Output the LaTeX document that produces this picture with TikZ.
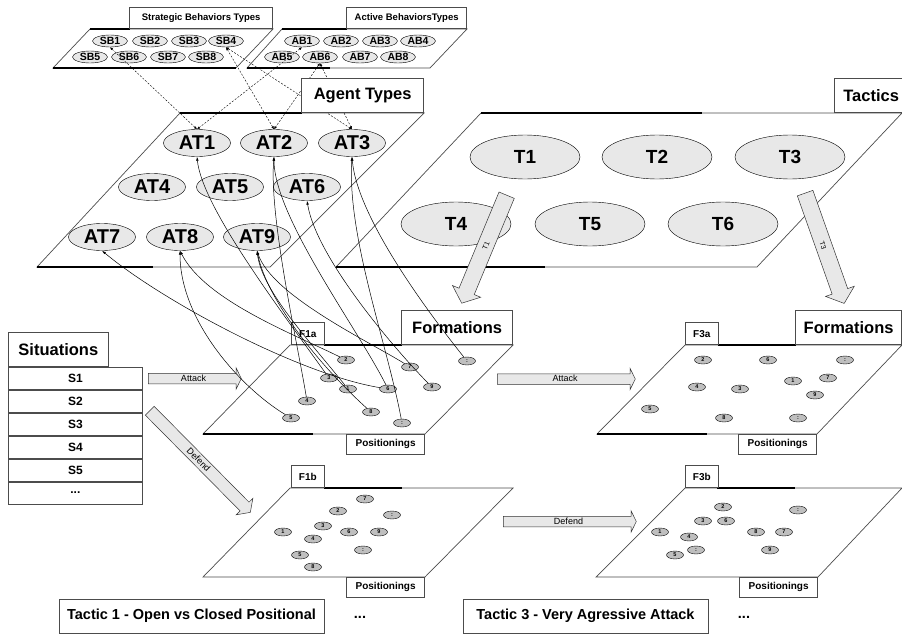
\documentclass[tikz,border=0pt]{standalone}
\usepackage{fontspec}
\setmainfont{Liberation Sans}
\usetikzlibrary{arrows.meta, positioning, shapes.geometric, shapes.arrows}

\begin{document}
\begin{tikzpicture}[
    x=1pt, y=-1pt,
    panel/.style={draw=black!70, line width=0.7pt, fill=white},
    rim/.style={line width=1.5pt},
    tab/.style={draw=black!70, fill=white, line width=0.7pt, inner sep=0pt},
    bigtab/.style={tab, minimum height=34pt, font=\fontsize{16.5}{18}\selectfont\bfseries},
    smalltab/.style={tab, minimum height=21pt, font=\fontsize{9.5}{11}\selectfont\bfseries},
    ftab/.style={tab, minimum width=33pt, minimum height=22pt, font=\fontsize{10}{11}\selectfont\bfseries},
    postab/.style={tab, minimum width=78pt, minimum height=20pt, font=\fontsize{10}{11}\selectfont\bfseries},
    behav/.style={ellipse, draw, fill=gray!18, inner sep=0pt, minimum width=35pt, minimum height=12pt, font=\fontsize{10.5}{11}\selectfont\bfseries},
    agent/.style={ellipse, draw, fill=gray!18, inner sep=0pt, minimum width=67pt, minimum height=27pt, font=\fontsize{20}{20}\selectfont\bfseries},
    tactic/.style={ellipse, draw, fill=gray!18, inner sep=0pt, minimum width=110pt, minimum height=44pt, font=\fontsize{19}{19}\selectfont\bfseries},
    spot/.style={ellipse, draw, fill=gray!50, inner sep=0pt, minimum width=17pt, minimum height=8pt, font=\fontsize{5.5}{5.5}\selectfont\bfseries},
    srow/.style={draw=black!70, fill=white, line width=0.7pt, minimum width=134pt, minimum height=22.2pt, inner sep=0pt, font=\fontsize{12}{12}\selectfont\bfseries},
    titlebox/.style={draw=black!70, line width=0.7pt, inner sep=0pt, minimum height=34pt, font=\fontsize{14.5}{15}\selectfont\bfseries},
    fatarrow/.style={single arrow, draw=black!80, fill=gray!18, line width=0.5pt, inner xsep=2pt, text height=5pt, text depth=0pt, inner ysep=2.5pt, single arrow head extend=5.5pt, single arrow tip angle=128, font=\fontsize{9}{9}\selectfont},
    tacarrow/.style={fatarrow, text height=6pt, inner ysep=5pt, single arrow head extend=7pt, single arrow tip angle=100, font=\fontsize{7}{7}\selectfont},
    bond/.style={<->, >={Latex[length=3pt,width=2.5pt]}, dash pattern=on 2pt off 1.5pt, line width=0.4pt},
    link/.style={->, >={Latex[length=4pt,width=2.5pt]}, line width=0.5pt}
]
\useasboundingbox (0,0) rectangle (902,634);

% behaviour panels
\draw[panel] (90,29) -- (273,29) -- (236,68) -- (53,68) -- cycle;
\draw[rim] (90,29) -- (130,29) (53,68) -- (236,68);
\node[smalltab, minimum width=143pt, anchor=south east] (sbtab) at (273,29) {Strategic Behaviors Types};
\foreach \n/\x/\y in {1/110/41, 2/150/41, 3/189/41, 4/226/41, 5/90/57, 6/129/57, 7/168/57, 8/206/57}
    \node[behav] (sb\n) at (\x,\y) {SB\n};

\draw[panel] (282,29) -- (467,29) -- (430,68) -- (247,68) -- cycle;
\draw[rim] (282,29) -- (347,29) (247,68) -- (330,68);
\node[smalltab, minimum width=120pt, anchor=south east] (abtab) at (467,29) {Active BehaviorsTypes};
\foreach \n/\x/\y in {1/302/41, 2/341/41, 3/380/41, 4/418/41, 5/282/57, 6/320/57, 7/360/57, 8/398/57}
    \node[behav] (ab\n) at (\x,\y) {AB\n};

% agent types
\draw[panel] (180,113) -- (424,113) -- (270,267) -- (37,267) -- cycle;
\draw[rim] (180,113) -- (302,113) (37,267) -- (153,267);
\foreach \n/\x/\y in {1/197/143, 2/274/143, 3/352/143, 4/152/187, 5/230/187, 6/307/187, 7/102/237, 8/180/237, 9/257/237}
    \node[agent] (at\n) at (\x,\y) {AT\n};

% tactics
\draw[panel] (481,113) -- (902,113) -- (757,267) -- (336,267) -- cycle;
\draw[rim] (481,113) -- (702,113) (336,267) -- (545,267);
\node[bigtab, inner xsep=9pt, anchor=south west] (tactab) at (834,113) {Tactics};
\foreach \n/\x/\y in {1/525/157, 2/657/157, 3/790/157, 4/456/224, 5/590/224, 6/723/224}
    \node[tactic] (t\n) at (\x,\y) {T\n};

\draw[bond] (sb1.south) -- (at1.north);
\draw[bond] (ab1.south) -- (at1.north);
\draw[bond] (sb4.south) -- (at2.north);
\draw[bond] (ab6.south) -- (at2.north);
\draw[bond] (sb4.south) -- (at3.north);
\draw[bond] (ab6.south) -- (at3.north);
\node[bigtab, minimum width=122pt, anchor=south east] (agtab) at (424,113) {Agent Types};

% formations
\draw[panel] (290,345) -- (513,345) -- (425,434) -- (203,434) -- cycle;
\draw[rim] (324,345) -- (402,345) (203,434) -- (313,434);
\node[ftab, anchor=south west] (f1a) at (291,345) {F1a};
\node[bigtab, minimum width=111pt, anchor=south east] (form1) at (513,345) {Formations};
\node[postab, anchor=north east] (pos1a) at (425,434) {Positionings};
\foreach \n/\lbl/\x/\y in {1/1/348/389, 2/2/346/360, 3/3/329/378, 4/4/307/401, 5/5/291/418, 6/6/388/389, 7/7/410/367, 8/8/371/412, 9/9/432/387, a/:/467/361, b/:/402/423}
    \node[spot] (fa\n) at (\x,\y) {\lbl};

\draw[panel] (685,345) -- (902,345) -- (817,434) -- (597,434) -- cycle;
\draw[rim] (718,345) -- (796,345) (597,434) -- (707,434);
\node[ftab, anchor=south west] (f3a) at (685,345) {F3a};
\node[bigtab, minimum width=106pt, anchor=south east] (form3) at (902,345) {Formations};
\node[postab, anchor=north east] (pos3a) at (817,434) {Positionings};
\foreach \n/\lbl/\x/\y in {1/1/793/381, 2/2/703/360, 3/3/740/389, 4/4/697/387, 5/5/650/409, 6/6/768/360, 7/7/828/378, 8/8/724/418, 9/9/815/395, a/:/845/360, b/:/798/418}
    \node[spot] (ta\n) at (\x,\y) {\lbl};

\draw[panel] (290,488) -- (513,488) -- (425,577) -- (203,577) -- cycle;
\draw[rim] (324,488) -- (402,488);
\node[ftab, anchor=south west] (f1b) at (291,488) {F1b};
\node[postab, anchor=north east] (pos1b) at (425,577) {Positionings};
\foreach \n/\lbl/\x/\y in {1/1/283/532, 2/2/338/511, 3/3/323/526, 4/4/313/539, 5/5/300/555, 6/6/349/532, 7/7/365/499, 8/8/313/567, 9/9/379/532, a/:/392/515, b/:/363/550}
    \node[spot] (fb\n) at (\x,\y) {\lbl};

\draw[panel] (685,488) -- (902,488) -- (818,577) -- (596,577) -- cycle;
\draw[rim] (717,488) -- (795,488);
\node[ftab, anchor=south west] (f3b) at (685,488) {F3b};
\node[postab, anchor=north east] (pos3b) at (818,577) {Positionings};
\foreach \n/\lbl/\x/\y in {1/1/660/532, 2/2/723/507, 3/3/703/521, 4/4/689/537, 5/5/675/555, 6/6/726/521, 7/7/784/532, 8/8/756/532, 9/9/770/550, a/:/798/510, b/:/696/550}
    \node[spot] (tb\n) at (\x,\y) {\lbl};

% situations
\node[bigtab, minimum width=100pt, anchor=south west] (sittab) at (8,367) {Situations};
\node[srow, anchor=north west] (s1) at (8,367) {S1};
\node[srow, below=0pt of s1] (s2) {S2};
\node[srow, below=0pt of s2] (s3) {S3};
\node[srow, below=0pt of s3] (s4) {S4};
\node[srow, below=0pt of s4] (s5) {S5};
\node[srow, below=0pt of s5] (sn) {...};

% flow arrows
\node[fatarrow, minimum height=93pt] (atk1) at (193.5,378.5) {Attack};
\node[fatarrow, minimum height=138pt] (atk3) at (565,379) {Attack};
\node[fatarrow, minimum height=133pt] (dfd3) at (568.5,521.5) {Defend};
\node[fatarrow, minimum height=143pt, rotate=-45.3, text height=6pt, inner ysep=3pt, single arrow tip angle=110] (dfd1) at (198.5,460) {Defend};
\node[tacarrow, minimum height=117pt, rotate=67.4, shape border rotate=180] (tac1) at (485.5,246) {T1};
\node[tacarrow, minimum height=117pt, rotate=-70.5] (tac3) at (823.5,245) {T3};

% positions back to agent types
\draw[link] (fa6) .. controls +(-90,-15) and +(60,50) .. (at7.south);
\draw[link] (fa5) .. controls +(-50,-30) and +(0,70) .. (at8.south);
\draw[link] (fa2) .. controls +(-50,-25) and +(25,50) .. (at8.south);
\draw[link] (fa7) .. controls +(-40,-25) and +(15,45) .. (at9.south);
\draw[link] (fa1) .. controls +(-40,-50) and +(5,40) .. (at9.south);
\draw[link] (fa8) .. controls +(-50,-45) and +(10,50) .. (at9.south);
\draw[link] (fa3) .. controls +(-50,-70) and +(5,50) .. (at1.south);
\draw[link] (fa4) .. controls +(-10,-60) and +(-5,60) .. (at2.south);
\draw[link] (fa6) .. controls +(-30,-60) and +(0,60) .. (at2.south);
\draw[link] (fa9) .. controls +(-30,-30) and +(10,60) .. (at6.south);
\draw[link] (fab) .. controls +(-15,-80) and +(-5,80) .. (at3.south);
\draw[link] (faa) .. controls +(-40,-50) and +(5,60) .. (at3.south);

% tactic captions
\node[titlebox, minimum width=265pt] (cap1) at (191.5,616) {Tactic 1 - Open vs Closed Positional};
\node[font=\fontsize{14.5}{15}\selectfont\bfseries, anchor=base] (more1) at (360,618) {...};
\node[titlebox, minimum width=245pt] (cap3) at (585.5,616) {Tactic 3 - Very Agressive Attack};
\node[font=\fontsize{14.5}{15}\selectfont\bfseries, anchor=base] (more3) at (744,618) {...};
\end{tikzpicture}
\end{document}
